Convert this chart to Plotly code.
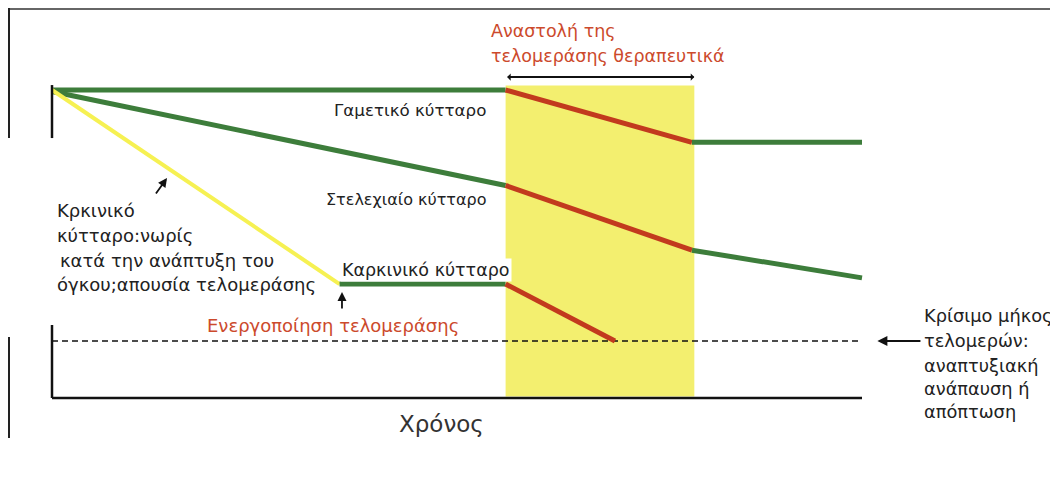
import plotly.graph_objects as go

# ---- data (time in arbitrary units, telomere length in % of initial) ----
therapy_start = 56
therapy_end = 79.3
therapy_top = 101.5

gamete_time = [0, 56, 79, 100]
gamete_len = [100, 100, 83, 83]

stem_time = [0, 56, 79, 100]
stem_len = [99.5, 69, 48, 39]

cancer_early_time = [0, 35.5]
cancer_early_len = [100, 37]
cancer_active_time = [35.5, 56]
cancer_active_len = [37, 37]
cancer_treated_time = [56, 69.5]
cancer_treated_len = [37, 18.5]

critical_len = 18.5
time_end = 100

GREEN = "#3d7d3b"
RED = "#c23a1e"
YELLOW_LINE = "#f6f152"
YELLOW_BOX = "#f3ef6f"
RED_TEXT = "#cc4a2c"
TXT = "#222222"
FONT = "DejaVu Sans"

W, H = 1050, 476

fig = go.Figure()

# therapy window
fig.add_shape(type="rect", x0=therapy_start, x1=therapy_end, y0=0.5, y1=therapy_top,
              xref="x", yref="y", fillcolor=YELLOW_BOX, line_width=0, layer="below")

# critical length dashed line
fig.add_trace(go.Scatter(x=[0, time_end], y=[critical_len, critical_len], mode="lines",
                         line=dict(color="#111111", width=1.6, dash="6px,4px"),
                         hoverinfo="skip", showlegend=False))

def seg(xs, ys, color, width):
    fig.add_trace(go.Scatter(x=xs, y=ys, mode="lines",
                             line=dict(color=color, width=width),
                             hoverinfo="skip", showlegend=False))

# gamete cell
seg(gamete_time[:2], gamete_len[:2], GREEN, 5)
seg(gamete_time[1:3], gamete_len[1:3], RED, 5)
seg(gamete_time[2:], gamete_len[2:], GREEN, 5)
# stem cell
seg(stem_time[:2], stem_len[:2], GREEN, 5)
seg(stem_time[1:3], stem_len[1:3], RED, 5)
seg(stem_time[2:], stem_len[2:], GREEN, 5)
# cancer cell
seg(cancer_early_time, cancer_early_len, YELLOW_LINE, 4)
seg(cancer_active_time, cancer_active_len, GREEN, 5)
seg(cancer_treated_time, cancer_treated_len, RED, 5)

# axes (broken, as scanned)
for (x0, y0, x1, y1) in [(0, 101.6, 0, 84.4), (0, 23.7, 0, 0), (0, 0, time_end, 0)]:
    fig.add_shape(type="line", x0=x0, y0=y0, x1=x1, y1=y1, xref="x", yref="y",
                  line=dict(color="#111111", width=2.5))

# page frame lines (figure sits 8px inside the window)
fx = 1 / W
fig.add_shape(type="line", xref="paper", yref="paper", x0=0, x1=1, y0=1 - 1 / H, y1=1 - 1 / H,
              line=dict(color="#333333", width=1.5))
fig.add_shape(type="line", xref="paper", yref="paper", x0=fx, x1=fx, y0=1, y1=1 - 130 / H,
              line=dict(color="#222222", width=2))
fig.add_shape(type="line", xref="paper", yref="paper", x0=fx, x1=fx, y0=1 - 329 / H, y1=1 - 430 / H,
              line=dict(color="#222222", width=2))

def label(text, x, y, size=17.5, color=TXT, xanchor="left", bg=None):
    fig.add_annotation(x=x, y=y, xref="x", yref="y", text=text, showarrow=False,
                       xanchor=xanchor, yanchor="middle", align=xanchor if xanchor != "center" else "center",
                       font=dict(family=FONT, size=size, color=color),
                       bgcolor=bg, borderpad=1)

def arrow(x_tail, y_tail, x_head, y_head, side="end", width=1.8, head=2, size=1.0):
    fig.add_annotation(x=x_head, y=y_head, ax=x_tail, ay=y_tail, xref="x", yref="y",
                       axref="x", ayref="y", text="", showarrow=True, arrowhead=head,
                       arrowside=side, arrowwidth=width, arrowsize=size, arrowcolor="#111111")

# therapy title + span arrow
label("Αναστολή της", 53.95, 119.3, color=RED_TEXT)
label("τελομεράσης θεραπευτικά", 53.95, 111.0, color=RED_TEXT)
arrow(therapy_start, 104.2, therapy_end, 104.2, side="end+start", width=2, head=1, size=0.6)

label("Γαμετικό κύτταρο", 53.8, 93.5, size=16.7, xanchor="right")
label("Στελεχιαίο κύτταρο", 53.8, 64.3, size=16, xanchor="right")

label("Κρκινικό", 0.4, 61.0, size=18)
label("κύτταρο:νωρίς", 0.4, 52.6, size=18)
label("κατά την ανάπτυξη του", 0.75, 44.5, size=18)
label("όγκου;απουσία τελομεράσης", 0.4, 36.7, size=18)
arrow(12.7, 65.9, 14.2, 71.4)

label("Καρκινικό κύτταρο", 35.6, 41.6, bg="white")
arrow(35.8, 28.6, 35.8, 34.4)
label("Ενεργοποίηση τελομεράσης", 18.9, 23.7, size=18, color=RED_TEXT)

for txt, yy in [("Κρίσιμο μήκος", 26.9), ("τελομερών:", 18.8), ("αναπτυξιακή", 10.4),
                ("ανάπαυση ή", 3.2), ("απόπτωση", -4.5)]:
    label(txt, 107.4, yy, size=17.8)
arrow(107.4, critical_len, 101.9, critical_len, width=2, head=2, size=1.0)

label("Χρόνος", 48.1, -8.4, size=23, color="#333333", xanchor="center")

x_px0, x_scale = 44, 8.1
y_px0, y_scale = 390, 3.08
fig.update_layout(
    width=W, height=H, autosize=False,
    margin=dict(l=0, r=0, t=0, b=0),
    paper_bgcolor="white", plot_bgcolor="white",
    xaxis=dict(range=[-x_px0 / x_scale, (W - x_px0) / x_scale], visible=False, fixedrange=True),
    yaxis=dict(range=[-(H - y_px0) / y_scale, y_px0 / y_scale], visible=False, fixedrange=True),
    showlegend=False,
)

fig.write_html("out.html")
